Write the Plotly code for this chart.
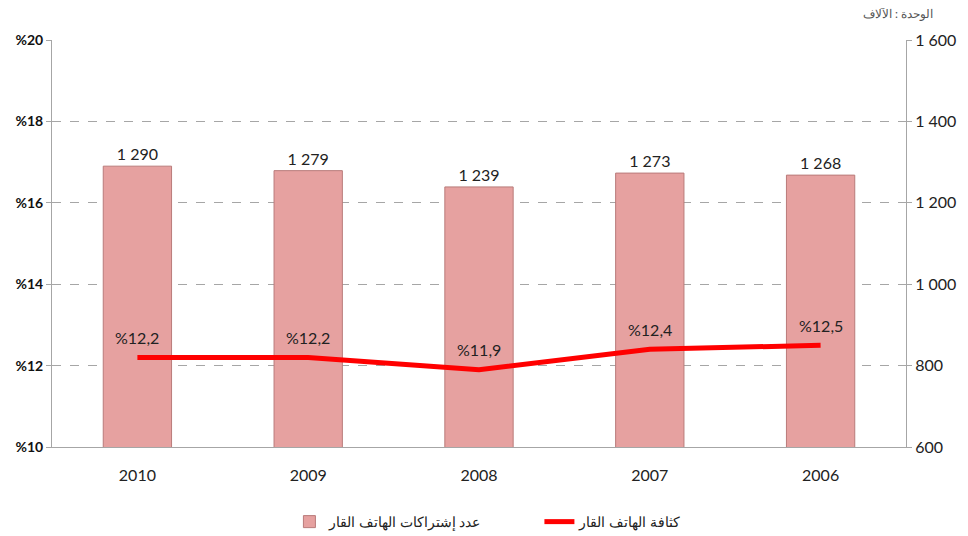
import plotly.graph_objects as go

# Données
annees = ["2010", "2009", "2008", "2007", "2006"]
abonnements = [1290, 1279, 1239, 1273, 1268]  # milliers
densite = [12.2, 12.2, 11.9, 12.4, 12.5]  # %

ticks_gauche = [10, 12, 14, 16, 18, 20]
ticks_droite = [600, 800, 1000, 1200, 1400, 1600]

nom_barres = "عدد إشتراكات الهاتف القار"
nom_ligne = "كثافة الهاتف القار"
unite = "الوحدة : الآلاف"

FONT = "Lato, 'Open Sans', sans-serif"


def fmt_milliers(v):
    return f"{v:,}".replace(",", " ")


def fmt_pct(v):
    return "%" + f"{v:.1f}".replace(".", ",")


fig = go.Figure()

# barres sur l'axe principal (à droite), la ligne sur l'axe superposé (à gauche)
fig.add_trace(
    go.Bar(
        x=annees,
        y=abonnements,
        yaxis="y",
        name=nom_barres,
        marker=dict(color="#E6A1A0", line=dict(color="#B97B7A", width=1)),
        width=0.4,
        text=[fmt_milliers(v) for v in abonnements],
        textposition="outside",
        textfont=dict(size=16, color="#222222", family=FONT),
        cliponaxis=False,
    )
)

fig.add_trace(
    go.Scatter(
        x=annees,
        y=densite,
        yaxis="y2",
        name=nom_ligne,
        mode="lines",
        line=dict(color="#FF0000", width=5),
    )
)

# étiquettes de la ligne, un peu au-dessus des points
# (x en indice de catégorie : "2010" serait lu comme un nombre)
etiquettes = [
    dict(
        x=i,
        y=v,
        xref="x",
        yref="y2",
        text=fmt_pct(v),
        showarrow=False,
        yshift=20,
        font=dict(size=16, color="#222222", family=FONT),
    )
    for i, v in enumerate(densite)
]

fig.update_layout(
    width=968,
    height=536,
    margin=dict(t=32, l=44, r=70, b=97, autoexpand=False),
    paper_bgcolor="white",
    plot_bgcolor="white",
    font=dict(family=FONT, size=14, color="#222222"),
    showlegend=True,
    legend=dict(
        orientation="h",
        x=0.278,
        xanchor="left",
        xref="paper",
        y=0.041,
        yref="container",
        yanchor="middle",
        traceorder="normal",
        font=dict(size=14, color="#222222"),
        itemwidth=30,
        entrywidth=205,
    ),
    xaxis=dict(
        type="category",
        categoryorder="array",
        categoryarray=annees,
        range=[-0.5, len(annees) - 0.5],
        showline=True,
        linecolor="#A6A6A6",
        linewidth=1,
        showgrid=False,
        ticks="",
        ticklabelstandoff=14,
        tickfont=dict(size=16, color="#222222"),
        automargin=False,
    ),
    yaxis=dict(
        range=[600, 1600],
        side="right",
        tickvals=ticks_droite,
        ticktext=[fmt_milliers(t) for t in ticks_droite],
        tickfont=dict(size=16, color="#222222"),
        showline=True,
        linecolor="#A6A6A6",
        ticks="outside",
        ticklen=5,
        tickcolor="#A6A6A6",
        showgrid=True,
        gridcolor="#A6A6A6",
        griddash="dash",
        gridwidth=1,
        zeroline=False,
        automargin=False,
    ),
    yaxis2=dict(
        range=[10, 20],
        overlaying="y",
        side="left",
        tickvals=ticks_gauche,
        ticktext=["<b>%" + str(t) + "</b>" for t in ticks_gauche],
        tickfont=dict(size=14, color="#111111"),
        showline=True,
        linecolor="#A6A6A6",
        ticks="outside",
        ticklen=5,
        tickcolor="#A6A6A6",
        showgrid=False,
        zeroline=False,
        automargin=False,
    ),
    annotations=etiquettes
    + [
        dict(
            text=unite,
            xref="paper",
            yref="paper",
            x=1.034,
            y=1.064,
            xanchor="right",
            yanchor="middle",
            showarrow=False,
            font=dict(size=12, color="#555555"),
        )
    ],
)

fig.write_html("out.html")
